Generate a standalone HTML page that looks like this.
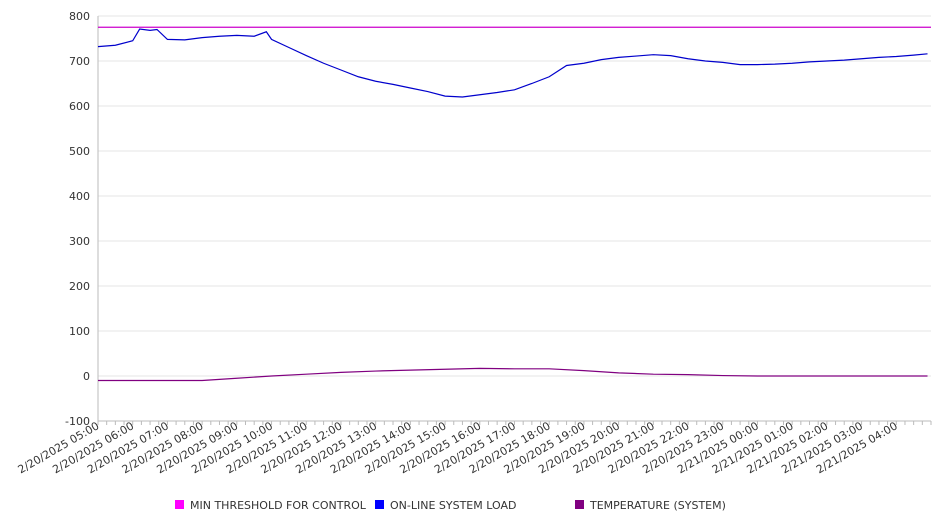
<!DOCTYPE html>
<html><head><meta charset="utf-8"><style>
body{margin:0;background:#fff;font-family:"DejaVu Sans","Liberation Sans",sans-serif}
svg text{font-family:"DejaVu Sans","Liberation Sans",sans-serif;font-size:11px;fill:#333}
</style></head><body>
<svg id="c" width="946" height="526"></svg>
<script>
const yTicks=[800,700,600,500,400,300,200,100,0,-100];
const hourLabels=["2/20/2025 05:00","2/20/2025 06:00","2/20/2025 07:00","2/20/2025 08:00","2/20/2025 09:00","2/20/2025 10:00","2/20/2025 11:00","2/20/2025 12:00","2/20/2025 13:00","2/20/2025 14:00","2/20/2025 15:00","2/20/2025 16:00","2/20/2025 17:00","2/20/2025 18:00","2/20/2025 19:00","2/20/2025 20:00","2/20/2025 21:00","2/20/2025 22:00","2/20/2025 23:00","2/21/2025 00:00","2/21/2025 01:00","2/21/2025 02:00","2/21/2025 03:00","2/21/2025 04:00"];
// hours since 05:00
const loadHours=[0,0.5,1,1.2,1.5,1.7,2,2.5,3,3.5,4,4.5,4.85,5,5.5,6,6.5,7,7.5,8,8.5,9,9.5,10,10.5,11,11.5,12,12.5,13,13.5,14,14.5,15,15.5,16,16.5,17,17.5,18,18.5,19,19.5,20,20.5,21,21.5,22,22.5,23,23.5,23.9];
const loadValues=[732,735,745,771,768,770,748,747,752,755,757,755,765,748,730,712,695,680,665,655,648,640,632,622,620,625,630,636,650,665,690,695,703,708,711,714,712,705,700,697,692,692,693,695,698,700,702,705,708,710,713,716];
const tempHours=[0,3,4,5,6,7,8,9,10,11,12,13,14,15,16,17,18,19,20,21,22,23,23.9];
const tempValues=[-10,-10,-5,0,4,8,11,13,15,17,16,16,12,7,4,3,1,0,0,0,0,0,0];
const threshold=775;
const NS="http://www.w3.org/2000/svg",svg=document.getElementById('c');
const x0=98,x1=931,pxH=(931-98)/24;
const X=h=>x0+h*pxH, Y=v=>376-v*0.45;
function el(t,a,p){const e=document.createElementNS(NS,t);for(const k in a)e.setAttribute(k,a[k]);(p||svg).appendChild(e);return e;}
yTicks.forEach(v=>{
 const g=el('line',{x1:x0,x2:x1,y1:Y(v),y2:Y(v),stroke:'#e6e6e6'});
 
 const t=el('text',{x:90,y:Y(v)+4,'text-anchor':'end'});t.textContent=v;
 
});
el('line',{x1:x0,x2:x0,y1:16,y2:421,stroke:'#bbb'});
el('line',{x1:x0,x2:x1,y1:421,y2:421,stroke:'#bbb'});
for(let i=0;i<=96;i++){el('line',{x1:X(i/4),x2:X(i/4),y1:421,y2:425,stroke:'#bbb'});}
hourLabels.forEach((s,i)=>{
 const t=el('text',{transform:`translate(${X(i)+2},${428}) rotate(-30)`,'text-anchor':'end'});t.textContent=s;
 
});
const th=el('line',{x1:x0,x2:x1,y1:Y(threshold),y2:Y(threshold),stroke:'#cc00cc','stroke-width':1.2});

const lp=el('polyline',{points:loadHours.map((h,i)=>X(h)+','+Y(loadValues[i])).join(' '),fill:'none',stroke:'#0000cc','stroke-width':1.2});

const tp=el('polyline',{points:tempHours.map((h,i)=>X(h)+','+Y(tempValues[i])).join(' '),fill:'none',stroke:'#800080','stroke-width':1.2});

const leg=[["MIN THRESHOLD FOR CONTROL","#ff00ff",175],["ON-LINE SYSTEM LOAD","#0000ff",375],["TEMPERATURE (SYSTEM)","#800080",575]];
leg.forEach(l=>{
 const r=el('rect',{x:l[2],y:500,width:9,height:9,fill:l[1]});
 
 const t=el('text',{x:l[2]+15,y:509});t.textContent=l[0];
 
});
</script>
</body></html>
